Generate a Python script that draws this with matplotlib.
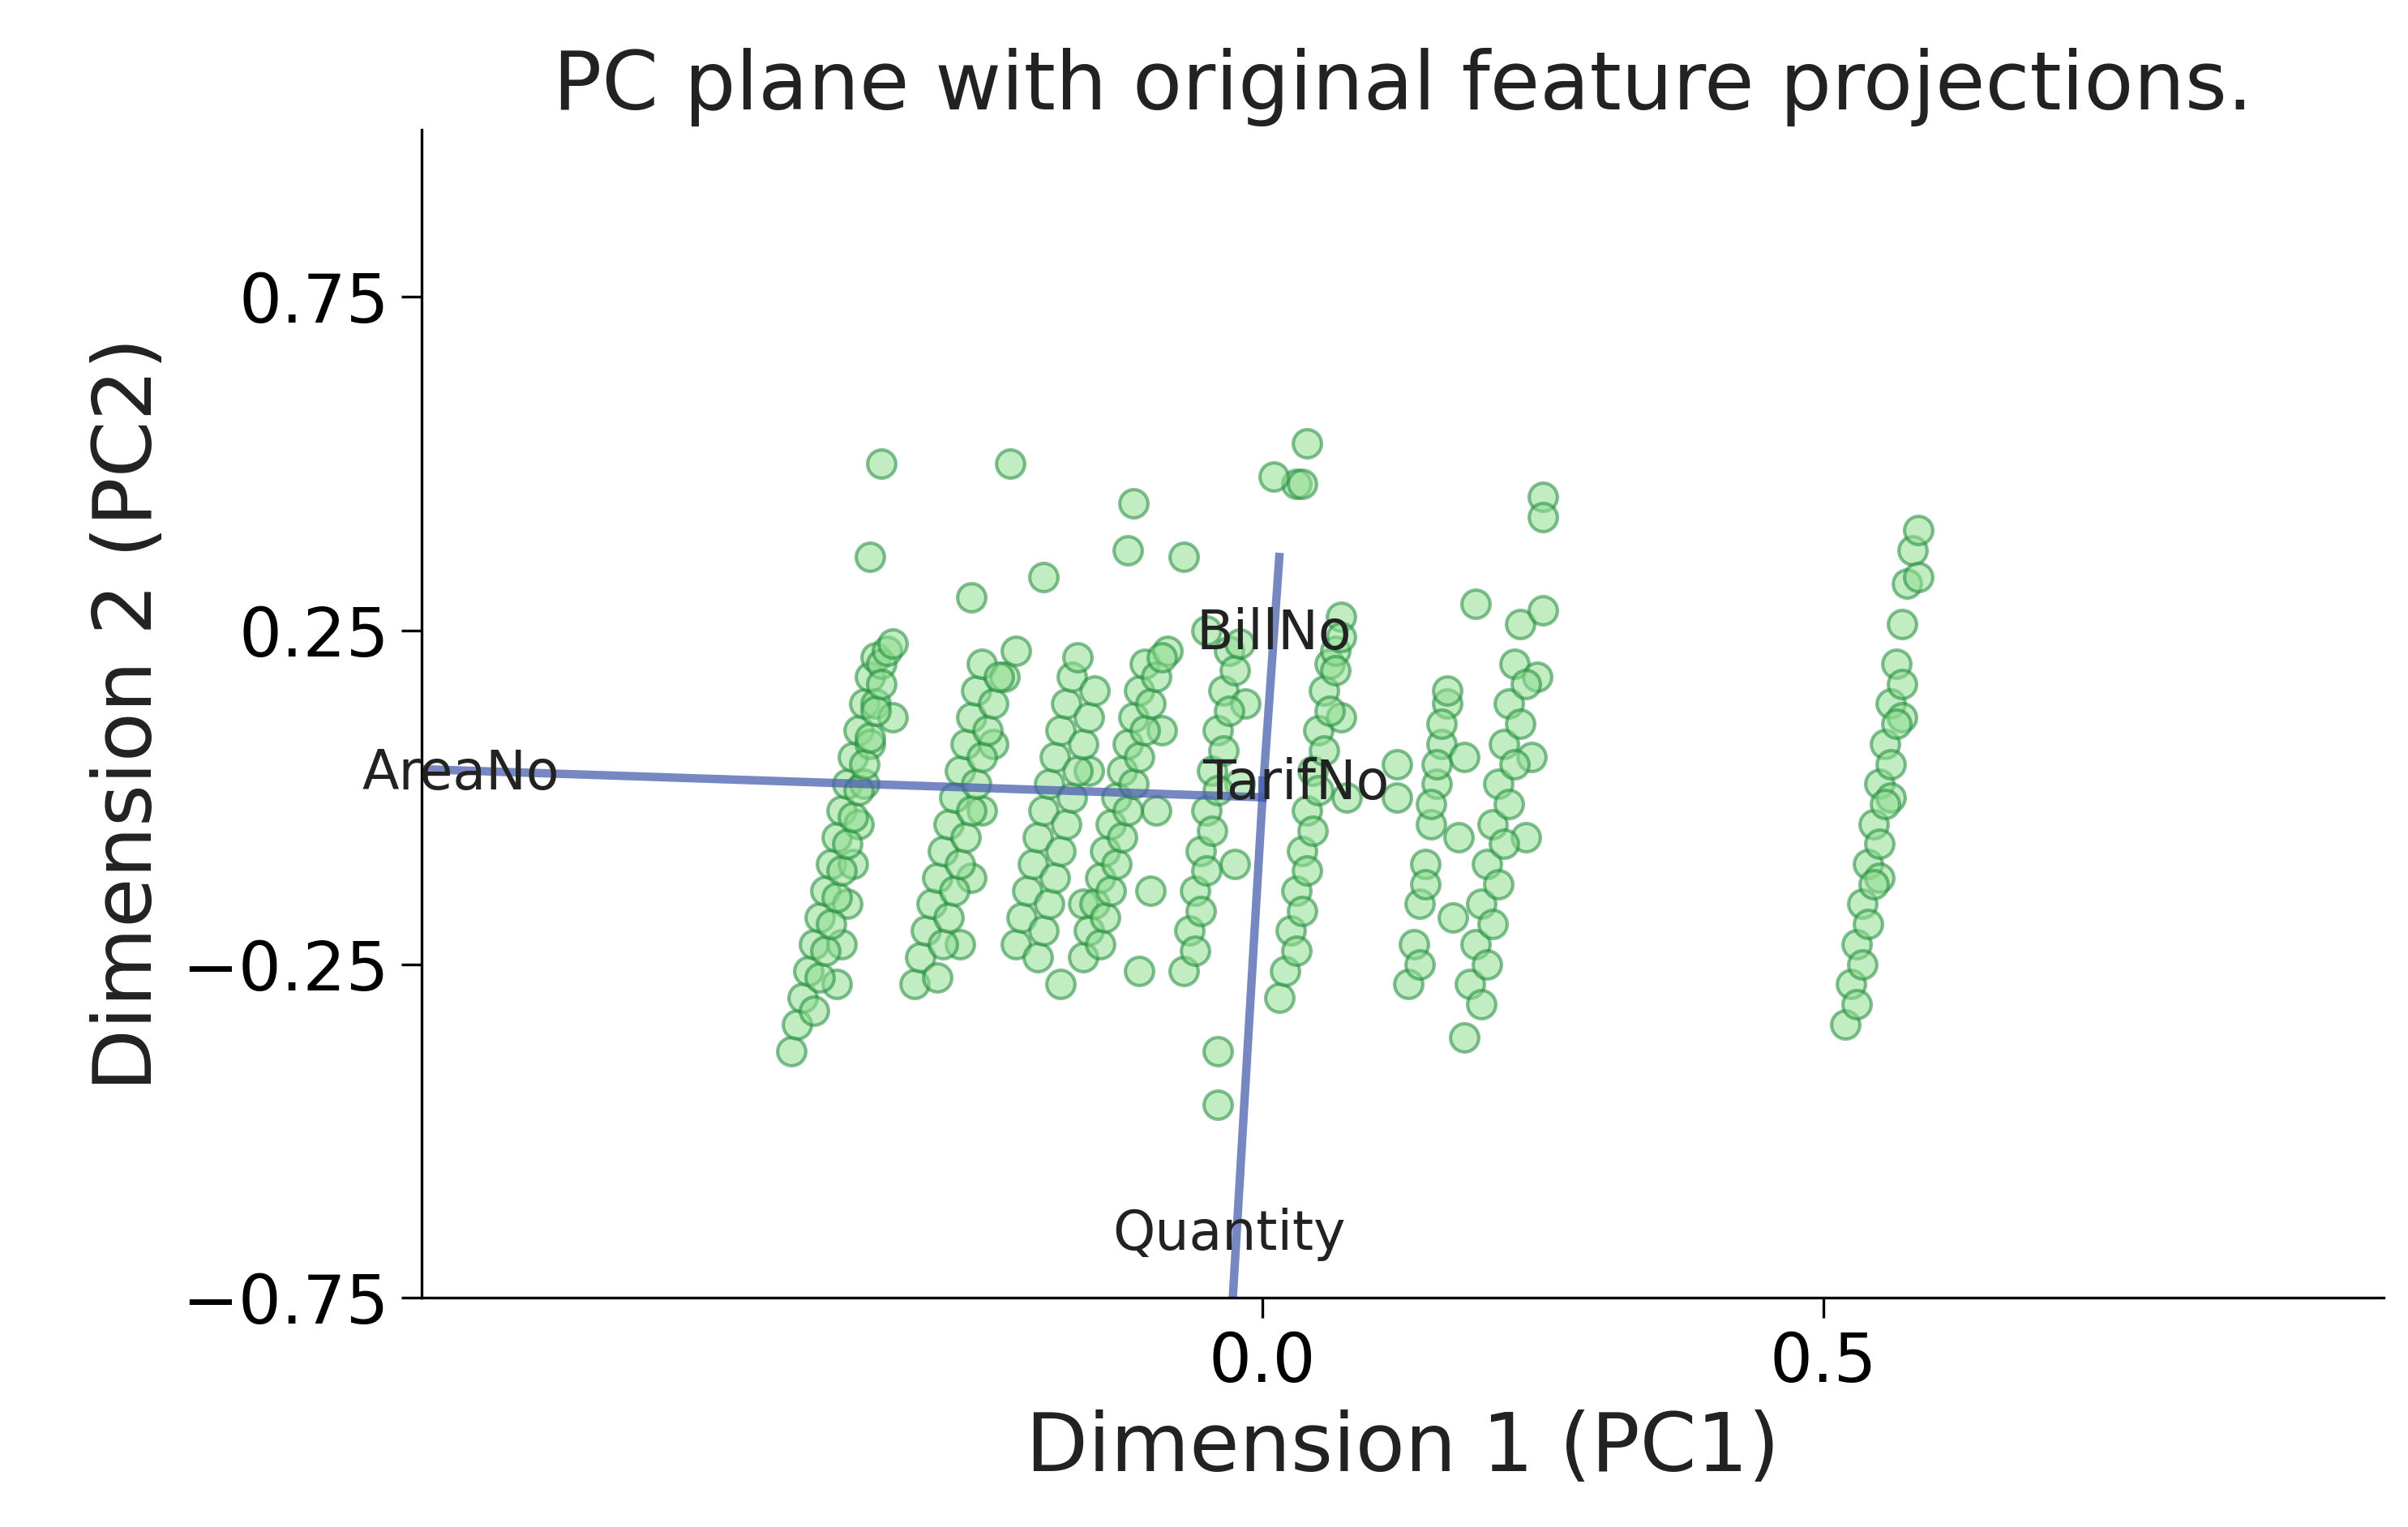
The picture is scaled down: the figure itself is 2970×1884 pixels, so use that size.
import numpy as np
import matplotlib.pyplot as plt

# projected samples, one block per visible strip
pc1 = [
    # strip around -0.39
    -0.42, -0.415, -0.41, -0.405, -0.40, -0.395, -0.39, -0.385, -0.38, -0.375, -0.37, -0.365, -0.36, -0.355, -0.35, -0.345,
    -0.38, -0.375, -0.37, -0.365, -0.36, -0.355, -0.35, -0.345, -0.34, -0.335, -0.33, -0.35, -0.34, -0.33,
    -0.40, -0.395, -0.39, -0.385, -0.38, -0.375, -0.37, -0.365, -0.36, -0.355, -0.35, -0.345, -0.34,
    # strip around -0.27
    -0.31, -0.305, -0.30, -0.295, -0.29, -0.285, -0.28, -0.275, -0.27, -0.265, -0.26, -0.255, -0.25,
    -0.27, -0.26, -0.25, -0.24, -0.23, -0.22, -0.225, -0.26,
    -0.29, -0.285, -0.28, -0.275, -0.27, -0.265, -0.26, -0.255, -0.25, -0.245, -0.24, -0.235,
    # strip around -0.19
    -0.22, -0.215, -0.21, -0.205, -0.20, -0.195, -0.19, -0.185, -0.18, -0.175, -0.17, -0.165, -0.16, -0.155, -0.195, -0.18,
    -0.20, -0.195, -0.19, -0.185, -0.18, -0.175, -0.17, -0.165, -0.16, -0.155, -0.15,
    # strip around -0.12
    -0.16, -0.155, -0.15, -0.145, -0.14, -0.135, -0.13, -0.125, -0.12, -0.115, -0.11, -0.105, -0.10, -0.095, -0.09, -0.085,
    -0.115, -0.12, -0.07, -0.11,
    -0.145, -0.14, -0.135, -0.13, -0.125, -0.12, -0.115, -0.11, -0.105, -0.10, -0.095, -0.09,
    # strip around -0.04
    -0.07, -0.065, -0.06, -0.055, -0.05, -0.045, -0.04, -0.035, -0.03, -0.025, -0.02, -0.015, -0.04, -0.04, -0.05,
    -0.06, -0.055, -0.05, -0.045, -0.04, -0.035, -0.03, -0.025, -0.02,
    # strip around 0.05
    0.015, 0.02, 0.025, 0.03, 0.035, 0.04, 0.045, 0.05, 0.055, 0.06, 0.065, 0.07, 0.075, 0.03, 0.035,
    0.04, 0.01, 0.07, 0.12, 0.12,
    0.03, 0.035, 0.04, 0.045, 0.05, 0.055, 0.06, 0.065, 0.07,
    # strip around 0.16
    0.13, 0.135, 0.14, 0.145, 0.15, 0.155, 0.16, 0.165, 0.17, 0.175, 0.18,
    0.14, 0.145, 0.15, 0.155, 0.16, 0.165,
    # strip around 0.22
    0.18, 0.185, 0.19, 0.195, 0.20, 0.205, 0.21, 0.215, 0.22, 0.225, 0.23, 0.235, 0.24, 0.245, 0.25, 0.25, 0.25, 0.19,
    0.195, 0.20, 0.205, 0.21, 0.215, 0.22, 0.225, 0.23, 0.235,
    # strip around 0.55
    0.52, 0.525, 0.53, 0.535, 0.54, 0.545, 0.55, 0.555, 0.56, 0.565, 0.57, 0.575, 0.58, 0.55, 0.56, 0.57, 0.585, 0.585,
    0.53, 0.535, 0.54, 0.545, 0.55, 0.555, 0.56, 0.565, 0.57,
]
pc2 = [
    -0.38, -0.34, -0.30, -0.26, -0.22, -0.18, -0.14, -0.10, -0.06, -0.02, 0.02, 0.06, 0.10, 0.14, 0.18, 0.21,
    -0.28, -0.22, -0.16, -0.10, -0.04, 0.02, 0.08, 0.14, 0.20, 0.22, 0.12, 0.36, 0.50, 0.23,
    -0.32, -0.27, -0.23, -0.19, -0.15, -0.11, -0.07, -0.03, 0.01, 0.05, 0.09, 0.13, 0.17,
    -0.28, -0.24, -0.20, -0.16, -0.12, -0.08, -0.04, 0.00, 0.04, 0.08, 0.12, 0.16, 0.20,
    -0.22, -0.12, -0.02, 0.08, 0.18, 0.22, 0.50, 0.30,
    -0.27, -0.22, -0.18, -0.14, -0.10, -0.06, -0.02, 0.02, 0.06, 0.10, 0.14, 0.18,
    -0.22, -0.18, -0.14, -0.10, -0.06, -0.02, 0.02, 0.06, 0.10, 0.14, 0.18, 0.21, -0.16, 0.04, 0.33, -0.28,
    -0.24, -0.20, -0.16, -0.12, -0.08, -0.04, 0.00, 0.04, 0.08, 0.12, 0.16,
    -0.24, -0.20, -0.16, -0.12, -0.08, -0.04, 0.00, 0.04, 0.08, 0.12, 0.16, 0.20, -0.14, -0.02, 0.10, 0.22,
    0.44, 0.37, 0.36, -0.26,
    -0.22, -0.18, -0.14, -0.10, -0.06, -0.02, 0.02, 0.06, 0.10, 0.14, 0.18, 0.21,
    -0.26, -0.20, -0.14, -0.08, -0.02, 0.04, 0.10, 0.16, 0.22, -0.10, 0.02, 0.14, -0.46, -0.38, 0.25,
    -0.23, -0.17, -0.11, -0.05, 0.01, 0.07, 0.13, 0.19, 0.23,
    -0.30, -0.26, -0.20, -0.14, -0.08, -0.02, 0.04, 0.10, 0.16, 0.20, 0.22, 0.12, 0.00, 0.47, 0.47,
    0.53, 0.48, 0.27, 0.05, 0.00,
    -0.23, -0.17, -0.11, -0.05, 0.01, 0.07, 0.13, 0.19, 0.24,
    -0.28, -0.22, -0.16, -0.10, -0.04, 0.02, 0.08, 0.14, -0.18, -0.06, 0.06,
    -0.25, -0.13, -0.01, 0.05, 0.11, 0.16,
    -0.36, -0.28, -0.22, -0.16, -0.10, -0.04, 0.02, 0.08, 0.14, 0.20, 0.26, -0.06, 0.06, 0.18, 0.28, 0.45, 0.42, 0.29,
    -0.31, -0.25, -0.19, -0.13, -0.07, -0.01, 0.05, 0.11, 0.17,
    -0.34, -0.28, -0.22, -0.16, -0.10, -0.04, 0.02, 0.08, 0.14, 0.20, 0.26, 0.32, 0.37, -0.12, 0.00, 0.12, 0.40, 0.33,
    -0.31, -0.25, -0.19, -0.13, -0.07, -0.01, 0.05, 0.11, 0.17,
]

features = ['AreaNo', 'TarifNo', 'BillNo', 'Quantity']
load_x = [-0.80, 0.00, 0.015, -0.03]
load_y = [0.045, 0.025, 0.36, -0.85]
label_x = [-0.715, 0.03, 0.01, -0.03]
label_y = [0.035, 0.02, 0.245, -0.655]

fig, ax = plt.subplots(figsize=(9.9, 6.28), dpi=300)

ax.scatter(pc1, pc2, s=70, facecolor='#90dd90', edgecolor='#1f8a3a',
           alpha=0.55, linewidths=1.0)

for name, lx, ly, tx, ty in zip(features, load_x, load_y, label_x, label_y):
    ax.plot([0, lx], [0, ly], color='#4a5fae', alpha=0.75, lw=2.5)
    ax.text(tx, ty, name, fontsize=16, ha='center', va='center', color='#222222')

ax.set_xlim(-0.75, 1.0)
ax.set_ylim(-0.75, 1.0)
ax.set_xticks([0.0, 0.5])
ax.set_yticks([-0.75, -0.25, 0.25, 0.75])
ax.tick_params(labelsize=20, length=6)
ax.spines['top'].set_visible(False)
ax.spines['right'].set_visible(False)
ax.set_xlabel("Dimension 1 (PC1)", fontsize=24, color='#222222')
ax.set_ylabel("Dimension 2 (PC2)", fontsize=24, color='#222222')
ax.set_title("PC plane with original feature projections.", fontsize=24, color='#222222')

plt.subplots_adjust(left=0.175, right=0.99, bottom=0.15, top=0.915)
plt.savefig("out.png")
